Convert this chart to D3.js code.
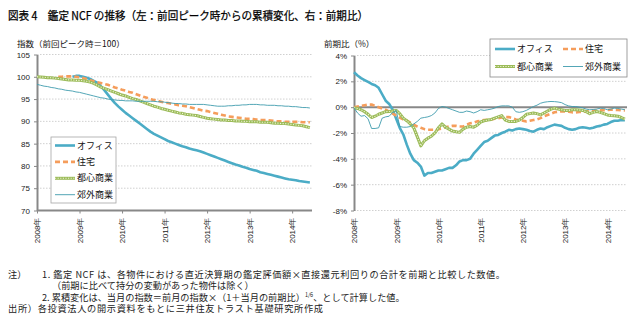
<!DOCTYPE html>
<html lang="ja">
<head>
<meta charset="UTF-8">
<title>鑑定 NCF の推移</title>
<script src="https://d3js.org/d3.v7.min.js"></script>
<style>
  body { margin: 0; background: #fff; }
  svg { display: block; font-family: "Noto Sans CJK JP", sans-serif; }
  .grid line { stroke: #c4c4c4; stroke-width: 0.8; stroke-dasharray: 1.5,1.5; }
  .axis text { font-size: 8px; fill: #222; }
  .axis line { stroke: #888; }
  .note { font-size: 9.2px; fill: #222; }
</style>
</head>
<body>
<svg width="640" height="324"></svg>
<script>
    // monthly series, Jan 2008 - Jun 2014 (null = before the series' previous peak)
    const yearLabels = ["2008年", "2009年", "2010年", "2011年", "2012年", "2013年", "2014年"];
    const seriesNames = ["オフィス", "住宅", "都心商業", "郊外商業"];
    const leftTicks = [70, 75, 80, 85, 90, 95, 100, 105];
    const rightTicks = [-8, -6, -4, -2, 0, 2, 4];

    // cumulative index (previous peak = 100)
    const officeIndex = [
        null, null, null, null, null, null, null, null, null, null,
        100.0, 100.2, 100.2, 100.0, 99.8, 99.5, 99.1, 98.7, 97.9, 97.0,
        96.0, 95.0, 94.1, 93.3, 92.6, 91.9, 91.3, 90.7, 90.1, 89.5,
        88.9, 88.3, 87.7, 87.2, 86.8, 86.4, 86.0, 85.6, 85.3, 85.0,
        84.7, 84.4, 84.2, 83.9, 83.7, 83.5, 83.3, 83.0, 82.7, 82.4,
        82.1, 81.8, 81.5, 81.2, 80.9, 80.6, 80.3, 80.1, 79.8, 79.6,
        79.3, 79.1, 78.9, 78.6, 78.4, 78.2, 78.0, 77.8, 77.6, 77.4,
        77.2, 77.0, 76.9, 76.8, 76.6, 76.5, 76.4, 76.3
    ];
    const housingIndex = [
        null, null, null, null, null, null,
        100.0, 100.0, 100.1, 100.1, 100.1, 100.0, 99.9, 99.7, 99.5, 99.2,
        99.0, 98.8, 98.6, 98.4, 98.2, 97.9, 97.6, 97.4, 97.1, 96.9,
        96.6, 96.4, 96.1, 95.8, 95.5, 95.3, 95.0, 94.8, 94.6, 94.4,
        94.2, 94.1, 93.9, 93.8, 93.6, 93.5, 93.4, 93.2, 93.0, 92.8,
        92.6, 92.4, 92.3, 92.1, 91.9, 91.7, 91.5, 91.3, 91.1, 91.0,
        90.9, 90.8, 90.7, 90.6, 90.6, 90.5, 90.4, 90.3, 90.3, 90.3,
        90.2, 90.1, 90.0, 90.0, 89.9, 89.9, 89.9, 89.9, 89.9, 89.8,
        89.8, 89.8
    ];
    const urbanIndex = [
        100.0, 99.95, 99.9, 99.8, 99.8, 99.7, 99.6, 99.5, 99.4, 99.3,
        99.3, 99.2, 99.2, 99.1, 99.0, 98.8, 98.5, 98.1, 97.7, 97.4,
        97.1, 96.8, 96.5, 96.2, 95.9, 95.7, 95.4, 95.1, 94.9, 94.6,
        94.3, 94.0, 93.7, 93.4, 93.2, 92.9, 92.7, 92.5, 92.3, 92.1,
        91.9, 91.8, 91.6, 91.5, 91.4, 91.3, 91.1, 90.9, 90.7, 90.6,
        90.5, 90.4, 90.3, 90.3, 90.2, 90.2, 90.1, 90.1, 90.0, 90.0,
        89.9, 89.9, 89.9, 89.8, 89.8, 89.8, 89.7, 89.6, 89.6, 89.5,
        89.5, 89.4, 89.3, 89.2, 89.1, 89.0, 88.8, 88.6
    ];
    const suburbanIndex = [
        98.3, 98.1, 97.9, 97.8, 97.6, 97.5, 97.3, 97.2, 97.0, 96.9,
        96.8, 96.6, 96.5, 96.3, 96.1, 95.9, 95.7, 95.5, 95.3, 95.2,
        95.0, 94.9, 94.8, 94.7, 94.7, 94.6, 94.6, 94.6, 94.5, 94.5,
        94.5, 94.5, 94.5, 94.5, 94.4, 94.4, 94.3, 94.2, 94.1, 94.0,
        94.0, 93.9, 93.9, 93.8, 93.8, 93.8, 93.8, 93.8, 93.7, 93.6,
        93.5, 93.4, 93.4, 93.4, 93.5, 93.5, 93.6, 93.6, 93.7, 93.7,
        93.8, 93.8, 93.8, 93.7, 93.7, 93.6, 93.6, 93.6, 93.5, 93.5,
        93.4, 93.4, 93.3, 93.3, 93.2, 93.1, 93.1, 93.0
    ];

    // change on previous period (%)
    const officeChange = [
        2.7, 2.45, 2.25, 2.1, 1.95, 1.8, 1.7, 1.5, 1.0, 0.5,
        0.25, -0.2, -0.9, -1.6, -2.1, -2.9, -3.6, -4.1, -4.3, -4.6,
        -5.3, -5.1, -5.1, -5.0, -4.9, -4.9, -4.8, -4.7, -4.7, -4.5,
        -4.2, -4.1, -4.1, -4.0, -3.6, -3.3, -3.0, -2.7, -2.6, -2.4,
        -2.2, -2.15, -2.0, -1.9, -1.75, -1.8, -1.7, -1.65, -1.7, -1.75,
        -1.85, -1.9, -1.75, -1.65, -1.7, -1.55, -1.45, -1.35, -1.4, -1.45,
        -1.6, -1.7, -1.75, -1.7, -1.6, -1.55, -1.6, -1.65, -1.6, -1.5,
        -1.45, -1.35, -1.3, -1.15, -1.05, -1.05, -1.0, -1.0
    ];
    const housingChange = [
        0.0, 0.05, 0.1, 0.15, 0.2, 0.2, 0.1, 0.0, -0.1, -0.2,
        -0.35, -0.5, -0.65, -0.8, -0.95, -1.05, -1.2, -1.35, -1.5, -1.6,
        -1.7, -1.75, -1.75, -1.75, -1.7, -1.65, -1.55, -1.5, -1.45, -1.45,
        -1.5, -1.5, -1.35, -1.25, -1.2, -1.1, -1.05, -1.0, -0.98, -0.95,
        -0.9, -0.85, -0.8, -0.77, -0.77, -0.85, -0.95, -1.0, -1.05, -1.1,
        -1.05, -1.0, -0.95, -0.85, -0.7, -0.6, -0.5, -0.4, -0.35, -0.33,
        -0.33, -0.35, -0.4, -0.42, -0.38, -0.35, -0.33, -0.3, -0.28, -0.26,
        -0.25, -0.23, -0.22, -0.2, -0.2, -0.22, -0.24, -0.25
    ];
    const urbanChange = [
        -0.05, -0.1, -0.2, -0.35, -0.55, -0.8, -0.7, -0.55, -0.45, -0.35,
        -0.33, -0.3, -0.25, -0.5, -0.85, -1.05, -1.3, -1.6, -2.3, -3.0,
        -2.6, -2.4, -2.25, -2.0, -1.6, -1.3, -1.55, -1.7, -1.85, -1.9,
        -1.95, -1.7, -1.55, -1.5, -1.55, -1.4, -1.15, -1.05, -1.0, -0.95,
        -0.85, -0.75, -0.65, -1.0, -1.1, -1.1, -1.1, -1.0, -0.8, -0.55,
        -0.5, -0.45, -0.5, -0.6, -0.45, -0.3, -0.15, -0.07, -0.15, -0.2,
        -0.25, -0.25, -0.2, -0.2, -0.22, -0.25, -0.35, -0.5, -0.4, -0.33,
        -0.4, -0.5, -0.6, -0.65, -0.67, -0.7, -0.8, -0.93
    ];
    const suburbanChange = [
        -0.05, -0.45, -0.7, -0.65, -0.9, -1.65, -1.65, -1.6, -0.85, -0.75,
        -0.7, -0.4, -0.25, -1.5, -1.55, -1.55, -1.5, -1.3, -1.1, -0.85,
        -0.8, -0.75, -0.65, -0.45, -0.1, 0.05, 0.0, -0.1, -0.2, -0.3,
        -0.4, -0.4, -0.3, -0.35, -0.45, -0.35, -0.2, -0.25, -0.2, -0.15,
        -0.07, 0.05, 0.1, 0.1, 0.1, 0.0, -0.35, -0.4, -0.35, -0.25,
        -0.1, 0.05, 0.15, 0.3, 0.38, 0.42, 0.44, 0.43, 0.4, 0.35,
        0.2, 0.1, 0.05, 0.05, 0.0, -0.05, -0.15, -0.2, -0.18, -0.15,
        -0.08, -0.1, -0.2, -0.15, -0.07, -0.1, -0.15, -0.2
    ];

    // line looks per series, same order as seriesNames
    const styles = [
        { color: "#4bacc6", width: 2.6 },
        { color: "#f59d5b", width: 2.6, dash: "5,3" },
        { color: "#9bbb59", width: 3, dots: "#eef3d2" },
        { color: "#3f9cae", width: 0.9 }
    ];

    const svg = d3.select("svg");
    const yearTickPos = yearLabels.map((_, i) => i * 12);

    // draws one series path in its style (the dotted one is two stacked strokes)
    const drawStyled = (g, d, s) => {
        g.append("path").attr("d", d).attr("fill", "none")
            .attr("stroke", s.color).attr("stroke-width", s.width)
            .attr("stroke-dasharray", s.dash || null)
            .attr("stroke-linejoin", "round");
        if (s.dots) {
            g.append("path").attr("d", d).attr("fill", "none")
                .attr("stroke", s.dots).attr("stroke-width", 1.1)
                .attr("stroke-dasharray", "1.2,1.4");
        }
    };

    const renderPanel = (opt) => {
        const { x, y, series, gridTicks, tickFmt, baseline } = opt;
        const g = svg.append("g");
        const [x0, x1] = x.range();

        // horizontal gridlines
        g.append("g").attr("class", "grid")
            .selectAll("line").data(gridTicks).join("line")
            .attr("x1", x0).attr("x2", x1)
            .attr("y1", (d) => y(d)).attr("y2", (d) => y(d));

        // y axis
        g.append("g").attr("class", "axis")
            .attr("transform", `translate(${x0},0)`)
            .call(d3.axisLeft(y).tickValues(opt.yTicks).tickFormat(tickFmt).tickSize(3).tickSizeOuter(0).tickPadding(4))
            .call((a) => a.select(".domain").attr("stroke", "#888").attr("stroke-width", 2));

        // x axis, labels always along the bottom edge
        const xa = g.append("g").attr("class", "axis")
            .attr("transform", `translate(0,${y.range()[0]})`)
            .call(d3.axisBottom(x).tickValues(yearTickPos).tickFormat((d, i) => yearLabels[i])
                .tickSize(opt.xTickSize).tickSizeOuter(0));
        xa.select(".domain").remove();
        xa.selectAll(".tick text")
            .attr("transform", "rotate(-90)")
            .attr("text-anchor", "end")
            .attr("x", -7).attr("y", 0).attr("dy", "0.35em");

        // solid baseline (bottom edge on the left panel, zero line on the right)
        g.append("line")
            .attr("x1", x0).attr("x2", x1)
            .attr("y1", y(baseline)).attr("y2", y(baseline))
            .attr("stroke", "#888").attr("stroke-width", 2);

        const line = d3.line()
            .defined((d) => d != null)
            .x((d, i) => x(i))
            .y((d) => y(d));
        series.forEach((vals, k) => drawStyled(g, line(vals), styles[k]));
    };

    // left: cumulative change from previous peak
    const xL = d3.scaleLinear().domain([0, 77.6]).range([37, 312]);
    const yL = d3.scaleLinear().domain([70, 105]).range([210.5, 54.5]);
    renderPanel({
        x: xL, y: yL,
        series: [officeIndex, housingIndex, urbanIndex, suburbanIndex],
        gridTicks: leftTicks.filter((t) => t > 70),
        yTicks: leftTicks,
        tickFmt: (d) => d,
        baseline: 70,
        xTickSize: 3
    });

    // right: change on previous period
    const xR = d3.scaleLinear().domain([0, 77.6]).range([354, 627]);
    const yR = d3.scaleLinear().domain([-8, 4]).range([210.5, 55.5]);
    renderPanel({
        x: xR, y: yR,
        series: [officeChange, housingChange, urbanChange, suburbanChange],
        gridTicks: rightTicks.filter((t) => t !== 0),
        yTicks: rightTicks,
        tickFmt: (d) => d + "%",
        baseline: 0,
        xTickSize: 0
    });

    // legends
    const legendItem = (g, k, lx, ly) => {
        drawStyled(g, `M${lx},${ly}H${lx + 20}`, styles[k]);
        g.append("text").attr("x", lx + 22).attr("y", ly).attr("dy", "0.35em")
            .attr("font-size", 9).attr("fill", "#111").text(seriesNames[k]);
    };

    const legL = svg.append("g");
    legL.append("rect").attr("x", 51).attr("y", 137).attr("width", 65).attr("height", 66)
        .attr("fill", "#fff").attr("stroke", "#a6a6a6").attr("stroke-width", 0.8);
    seriesNames.forEach((_, k) => legendItem(legL, k, 55, 145.5 + k * 16.4));

    const legR = svg.append("g");
    legR.append("rect").attr("x", 490).attr("y", 39).attr("width", 137).attr("height", 38)
        .attr("fill", "#fff").attr("stroke", "#888").attr("stroke-width", 0.8);
    seriesNames.forEach((_, k) => legendItem(legR, k, k % 2 ? 563 : 495, k < 2 ? 49 : 66.5));

    // titles
    svg.append("text").attr("x", 8).attr("y", 19.5)
        .attr("font-size", 11.5).attr("fill", "#000")
        .attr("stroke", "#000").attr("stroke-width", 0.25)
        .attr("textLength", 360).attr("lengthAdjust", "spacingAndGlyphs")
        .text("図表 4　鑑定 NCF の推移（左：前回ピーク時からの累積変化、右：前期比）");
    svg.append("text").attr("x", 17).attr("y", 46.5)
        .attr("font-size", 8.5).attr("fill", "#111")
        .text("指数（前回ピーク時＝100）");
    svg.append("text").attr("x", 324).attr("y", 46.5)
        .attr("font-size", 8.5).attr("fill", "#111")
        .text("前期比（%）");

    // notes
    const notes = svg.append("g").attr("class", "note");
    notes.append("text").attr("x", 8).attr("y", 277.5).text("注）");
    notes.append("text").attr("x", 42).attr("y", 277.5).attr("textLength", 463)
        .text("1. 鑑定 NCF は、各物件における直近決算期の鑑定評価額×直接還元利回りの合計を前期と比較した数値。");
    notes.append("text").attr("x", 52).attr("y", 289)
        .text("（前期に比べて持分の変動があった物件は除く）");
    const n3 = notes.append("text").attr("x", 42).attr("y", 300.5);
    n3.append("tspan").text("2. 累積変化は、当月の指数＝前月の指数×（1＋当月の前期比）");
    n3.append("tspan").attr("dy", -4).attr("font-size", 5.5).text("1/6");
    n3.append("tspan").attr("dy", 4).text("、として計算した値。");
    notes.append("text").attr("x", 8).attr("y", 312).attr("textLength", 315)
        .text("出所）各投資法人の開示資料をもとに三井住友トラスト基礎研究所作成");
</script>
</body>
</html>
